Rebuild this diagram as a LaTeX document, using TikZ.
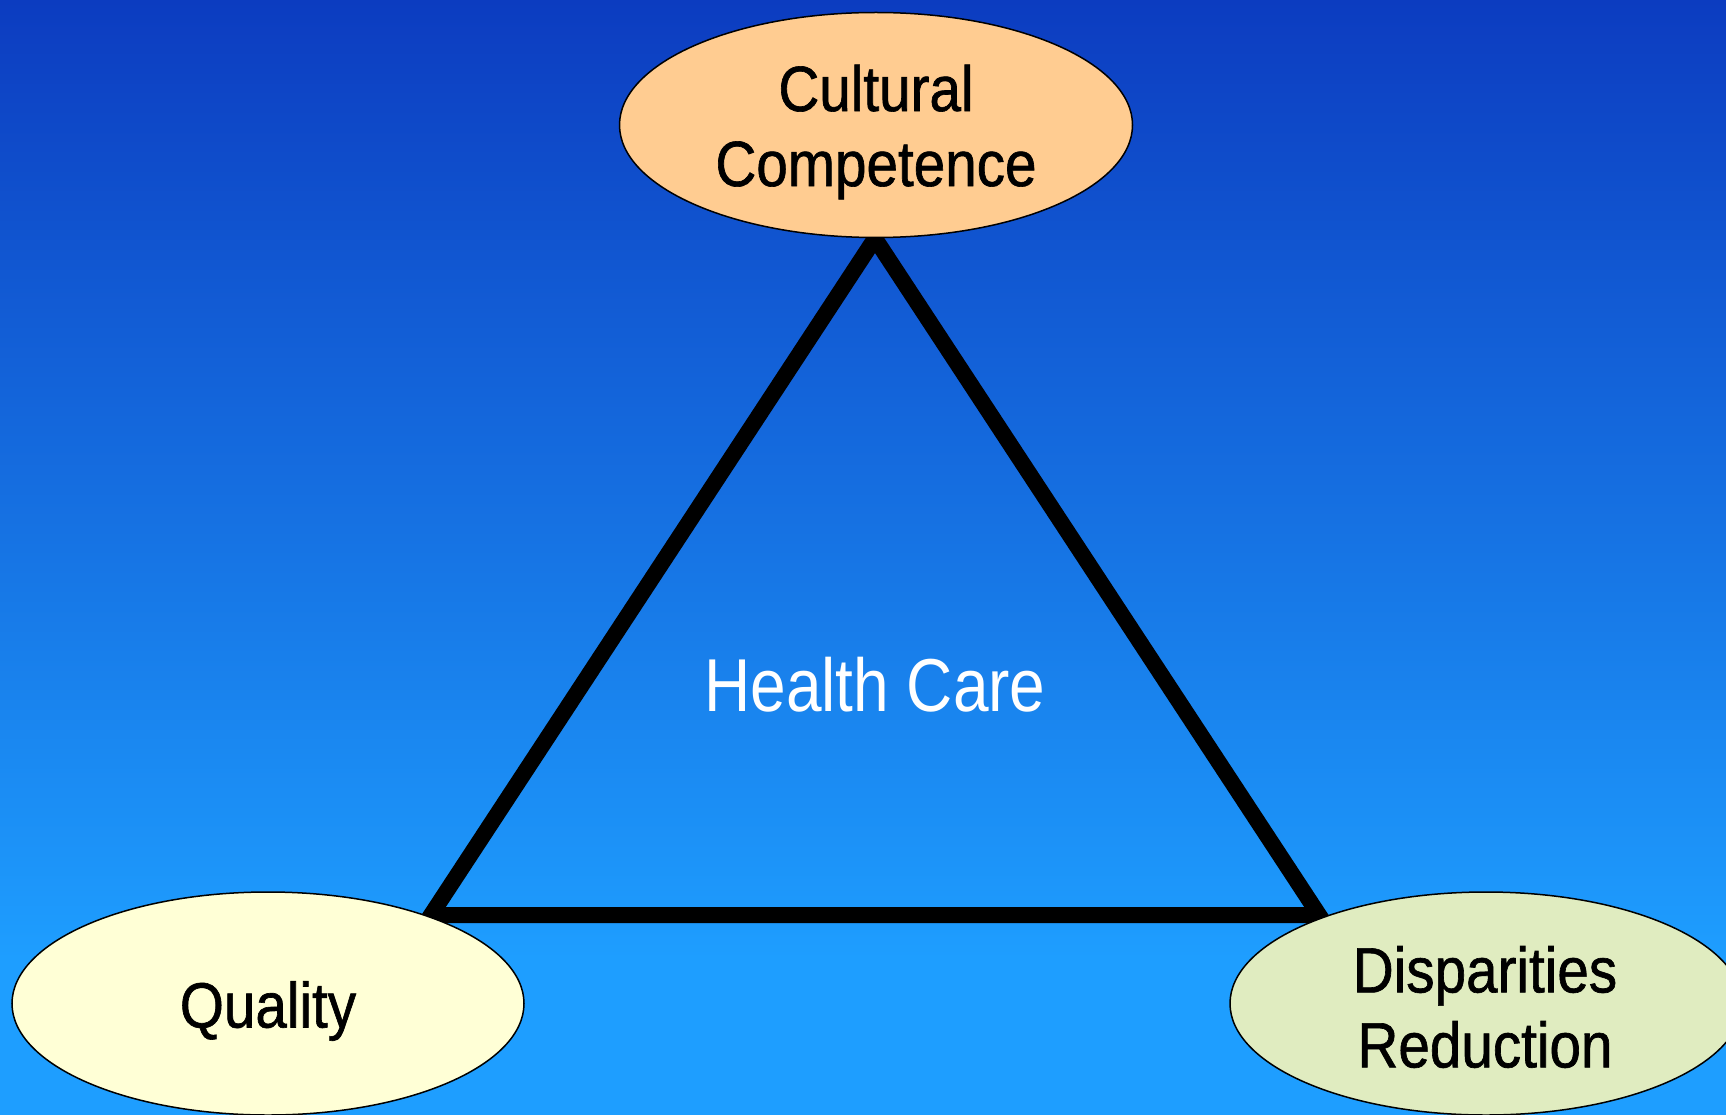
\documentclass[tikz,border=0pt]{standalone}
\usepackage{fontspec}
\setmainfont{Liberation Sans}[FakeStretch=0.853]
\newfontfamily\ellfont{Liberation Sans}[FakeStretch=0.885, FakeBold=1]
\usetikzlibrary{shapes.geometric}
\definecolor{bgtop}{RGB}{12,60,192}
\definecolor{bgbot}{RGB}{30,158,255}
\definecolor{ccfill}{RGB}{255,204,145}
\definecolor{qfill}{RGB}{255,255,214}
\definecolor{dfill}{RGB}{224,236,192}
\pgfdeclareverticalshading{bgshade}{100bp}{color(0bp)=(bgbot); color(32bp)=(bgbot); color(75bp)=(bgtop); color(100bp)=(bgtop)}
\tikzset{
  ell/.style={ellipse, draw=black, line width=1.5pt, inner sep=0pt},
  lbl/.style={align=center, inner sep=0pt, font=\ellfont\fontsize{64}{75}\selectfont},
  tri/.style={draw=black, line width=16pt, line join=miter},
}
\begin{document}
\begin{tikzpicture}[x=1pt,y=-1pt]
\useasboundingbox (0,0) rectangle (1726,1115);
\shade[shading=bgshade] (0,0) rectangle (1726,1115);
\coordinate (A) at (875,238.5);
\coordinate (B) at (431,915);
\coordinate (C) at (1319,915);
\draw[tri] (A) -- (B) -- (C) -- cycle;
\node[anchor=base, text=white, font=\fontsize{75}{80}\selectfont] (hc) at (875,711) {Health Care};
\node[ell, fill=ccfill, minimum width=513pt, minimum height=225pt] (cc) at (876,125) {};
\node[lbl] (cct) at (876,132) {Cultural\\Competence};
\node[ell, fill=qfill, minimum width=512pt, minimum height=223pt] (q) at (268,1003.5) {};
\node[lbl] (qt) at (268,1011) {Quality};
\node[ell, fill=dfill, minimum width=512pt, minimum height=223pt] (d) at (1486,1003.5) {};
\node[lbl] (dt) at (1485,1007) {Disparities\\Reduction};
\end{tikzpicture}
\end{document}
